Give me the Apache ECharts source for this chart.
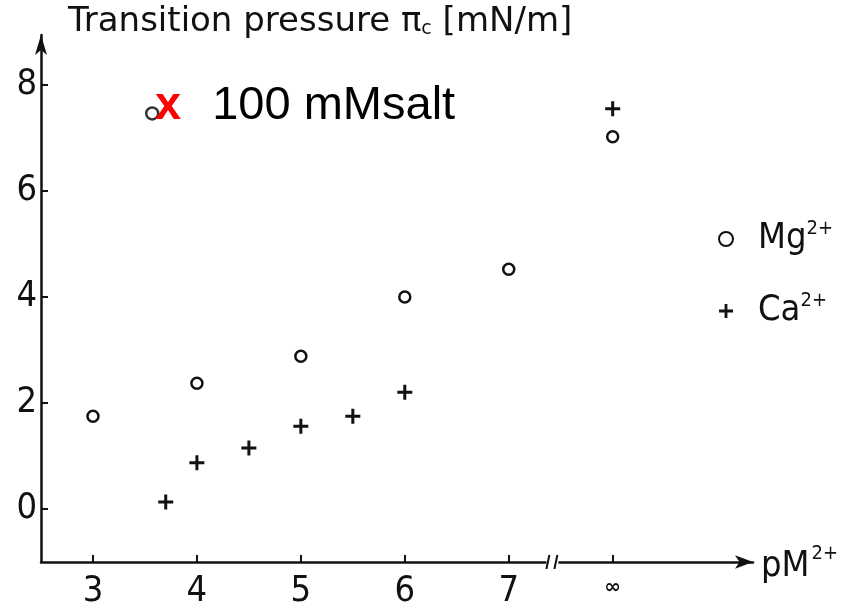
<!DOCTYPE html>
<html><head><meta charset="utf-8">
<script src="https://cdn.jsdelivr.net/npm/echarts@6/dist/echarts.min.js"></script>
<style>html,body{margin:0;padding:0;background:#fff}#c{width:850px;height:611px}</style>
</head><body><div id="c"></div>
<script>
const FONT = '"Liberation Sans Narrow","DejaVu Sans Condensed",sans-serif';
const WIDE = '"DejaVu Sans",sans-serif';
const ARIAL = '"Liberation Sans",Arial,sans-serif';

// tick positions and labels
const xTicks = [3, 4, 5, 6, 7, 8];
const xTickLabels = ['3', '4', '5', '6', '7', '∞'];
const yTicks = [0, 2, 4, 6, 8];

// Mg2+ (circles)
const mgX = [3, 4, 5, 6, 7, 8];
const mgY = [1.75, 2.37, 2.88, 4.0, 4.52, 7.02];
// Ca2+ (crosses)
const caX = [3.7, 4, 4.5, 5, 5.5, 6, 8];
const caY = [0.13, 0.87, 1.15, 1.56, 1.75, 2.2, 7.55];
// 100 mM salt point
const saltX = [3.57];
const saltY = [7.46];

const seriesNames = ['Mg', 'Ca'];
const annotation = '100 mMsalt';
const yTitleMain = 'Transition pressure π';
const yTitleSub = 'c';
const yTitleUnit = ' [mN/m]';
const xName = 'pM';

const ink = '#111';
const plusPath = 'path://M4,0H6V4H10V6H6V10H4V6H0V4H4Z';

const zip = (xs, ys) => xs.map((x, i) => [x, ys[i]]);

const chart = echarts.init(document.getElementById('c'), null, {renderer: 'canvas'});
const option = {
  animation: false,
  backgroundColor: '#fff',
  title: {
    text: '{a|' + yTitleMain + '}{c|' + yTitleSub + '}{a|' + yTitleUnit + '}',
    left: 63, top: 0,
    textStyle: {
      fontWeight: 'normal',
      rich: {
        a: {fontFamily: WIDE, fontSize: 34, fontWeight: 'normal', color: ink},
        c: {fontFamily: WIDE, fontSize: 19, fontWeight: 'normal', color: ink, padding: [14, 0, 0, 0]}
      }
    }
  },
  legend: {
    data: seriesNames,
    orient: 'vertical',
    left: 713, top: 214,
    itemWidth: 14, itemHeight: 14, itemGap: 34,
    formatter: n => '{m|' + n + '}{s|2+}',
    textStyle: {
      padding: [0, 0, 0, 20],
      rich: {
        m: {fontFamily: FONT, fontSize: 36, color: ink},
        s: {fontFamily: FONT, fontSize: 20, color: ink, padding: [0, 0, 20, 0]}
      }
    }
  },
  grid: {left: 41, top: 35, width: 712, height: 527, containLabel: false},
  xAxis: {
    type: 'value', min: 2.5, max: 9.35,
    axisLine: {show: true, onZero: false, lineStyle: {color: ink, width: 2.5}, symbol: ['none', 'arrow'], symbolSize: [10, 18]},
    axisTick: {show: true, inside: true, length: 7, customValues: xTicks, lineStyle: {color: ink, width: 2}},
    axisLabel: {
      customValues: xTicks,
      formatter: v => { const i = xTicks.indexOf(v); const s = i >= 0 ? xTickLabels[i] : ''; return s === '∞' ? '{inf|∞}' : s; },
      fontFamily: FONT, fontSize: 36, color: ink, margin: 12,
      rich: {inf: {fontFamily: '"DejaVu Sans"', fontSize: 20, fontWeight: 'bold', color: ink, padding: [4, 0, 0, 0]}}
    },
    splitLine: {show: false},
    name: '{p|' + xName + '}{s|2+}',
    nameLocation: 'end', nameGap: 8,
    nameTextStyle: {
      rich: {
        p: {fontFamily: FONT, fontSize: 36, color: ink, padding: [10, 0, 0, 0]},
        s: {fontFamily: FONT, fontSize: 20, color: ink, padding: [0, 0, 16, 2]}
      }
    }
  },
  yAxis: {
    type: 'value', min: -1, max: 8.94,
    axisLine: {show: true, onZero: false, lineStyle: {color: ink, width: 2.5}, symbol: ['none', 'arrow'], symbolSize: [9, 20]},
    axisTick: {show: true, inside: true, length: 7, customValues: yTicks, lineStyle: {color: ink, width: 2}},
    axisLabel: {customValues: yTicks, fontFamily: FONT, fontSize: 36, color: ink, margin: 4},
    splitLine: {show: false}
  },
  series: [
    {
      name: seriesNames[0], type: 'scatter', data: zip(mgX, mgY),
      symbol: 'circle', symbolSize: 11,
      itemStyle: {color: '#fff', borderColor: ink, borderWidth: 2.5, opacity: 1}
    },
    {
      name: seriesNames[1], type: 'scatter', data: zip(caX, caY),
      symbol: plusPath, symbolSize: 15,
      itemStyle: {color: ink, opacity: 1}
    },
    {
      name: 'salt', type: 'scatter', data: zip(saltX, saltY),
      symbol: 'circle', symbolSize: 12,
      itemStyle: {color: '#fff', borderColor: '#333', borderWidth: 2.5, opacity: 1},
      label: {
        show: true, position: [10, -24], align: 'left', verticalAlign: 'top',
        formatter: '{x|x}{t|  ' + annotation + '}',
        rich: {
          x: {fontFamily: ARIAL, fontSize: 47, fontWeight: 'bold', color: '#f00', lineHeight: 47},
          t: {fontFamily: ARIAL, fontSize: 47, color: '#000', lineHeight: 47, padding: [0, 0, 0, 5]}
        }
      }
    }
  ]
};
chart.setOption(option);

// axis break marker between 7 and infinity
const bp = chart.convertToPixel({gridIndex: 0}, [7.42, -1]);
chart.setOption({
  graphic: [
    {type: 'rect', shape: {x: bp[0] - 6, y: bp[1] - 3, width: 12, height: 6}, style: {fill: '#fff'}, z: 100},
    {type: 'line', shape: {x1: bp[0] - 6, y1: bp[1] + 7, x2: bp[0] - 3, y2: bp[1] - 7}, style: {stroke: ink, lineWidth: 2}, z: 101},
    {type: 'line', shape: {x1: bp[0] + 2, y1: bp[1] + 7, x2: bp[0] + 5, y2: bp[1] - 7}, style: {stroke: ink, lineWidth: 2}, z: 101}
  ]
});
</script>
</body></html>
